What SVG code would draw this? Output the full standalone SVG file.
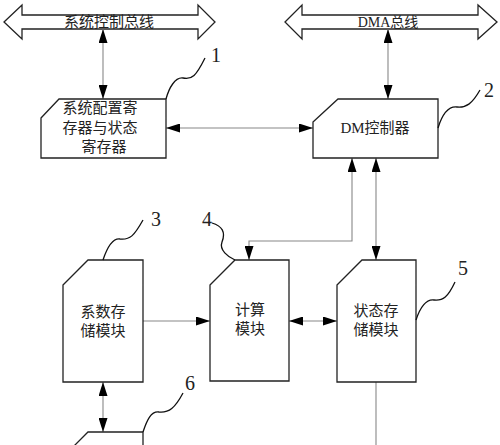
<svg xmlns="http://www.w3.org/2000/svg" width="500" height="445" viewBox="0 0 500 445">
<style>
.box{fill:#fff;stroke:#222;stroke-width:1.3}
.bus{fill:#fff;stroke:#222;stroke-width:1.3}
.conn{fill:none;stroke:#888;stroke-width:1.1}
.lead{fill:none;stroke:#111;stroke-width:1.3}
.t{font-family:"Liberation Serif","Noto Sans CJK SC",serif;font-size:15px;fill:#222;text-anchor:middle}
.num{font-family:"Liberation Serif",serif;font-size:20px;fill:#222;text-anchor:middle}
</style>
<defs>
<marker id="ah" markerUnits="userSpaceOnUse" markerWidth="14" markerHeight="9" refX="14" refY="4.5" orient="auto-start-reverse" viewBox="0 0 14 9">
<path d="M0,0 L14,4.5 L0,9 z" fill="#000"/>
</marker>
</defs>
<g id="bus1">
<polygon class="bus" points="4,22 22,5 22,15 198,15 198,5 215,22 198,39 198,29 22,29 22,39"/>
<text class="t" x="109" y="27">系统控制总线</text>
</g>
<g id="bus2">
<polygon class="bus" points="285,22 302,5 302,15 478,15 478,5 497,22 478,39 478,29 302,29 302,39"/>
<text class="t" x="388" y="27" style="font-size:14px">DMA总线</text>
</g>
<g id="connectors">
<path class="conn" d="M103,29 V99" marker-start="url(#ah)" marker-end="url(#ah)"/>
<path class="conn" d="M388,29 V99" marker-start="url(#ah)" marker-end="url(#ah)"/>
<path class="conn" d="M166,128 H313" marker-start="url(#ah)" marker-end="url(#ah)"/>
<path class="conn" d="M352,158 V241 H249 V260" marker-start="url(#ah)" marker-end="url(#ah)"/>
<path class="conn" d="M376,158 V260" marker-start="url(#ah)" marker-end="url(#ah)"/>
<path class="conn" d="M143,321 H210" marker-end="url(#ah)"/>
<path class="conn" d="M289,321 H337" marker-start="url(#ah)" marker-end="url(#ah)"/>
<path class="conn" d="M376,382 V445"/>
<path class="conn" d="M103,382 V432" marker-start="url(#ah)" marker-end="url(#ah)"/>
</g>
<g id="node1">
<polygon class="box" points="41,118 59,99 166,99 166,158 41,158"/>
<text class="t" x="100" y="113">系统配置寄</text>
<text class="t" x="100" y="133">存器与状态</text>
<text class="t" x="104" y="152">寄存器</text>
<path class="lead" d="M166,99 C169,88 175,77 183,78 C192,80 196,76 205,58"/>
<text class="num" x="216" y="62">1</text>
</g>
<g id="node2">
<polygon class="box" points="313,122 338,99 438,99 438,158 313,158"/>
<text class="t" x="375" y="133">DM控制器</text>
<path class="lead" d="M438,128 C442,115 448,106 457,107 C466,108 472,104 480,90"/>
<text class="num" x="489" y="97">2</text>
</g>
<g id="node3">
<polygon class="box" points="63,285 88,260 143,260 143,382 63,382"/>
<text class="t" x="103" y="317">系数存</text>
<text class="t" x="103" y="336">储模块</text>
<path class="lead" d="M103,260 C107,248 112,238 120,239 C130,240 134,236 143,220"/>
<text class="num" x="156" y="226">3</text>
</g>
<g id="node4">
<polygon class="box" points="210,285 235,260 289,260 289,381 210,381"/>
<text class="t" x="250" y="315">计算</text>
<text class="t" x="250" y="334">模块</text>
<path class="lead" d="M212,223 C222,226 226,232 222,242 C219,250 228,257 235,260"/>
<text class="num" x="207" y="226">4</text>
</g>
<g id="node5">
<polygon class="box" points="337,285 362,260 416,260 416,382 337,382"/>
<text class="t" x="376" y="316">状态存</text>
<text class="t" x="376" y="335">储模块</text>
<path class="lead" d="M416,320 C420,308 426,299 434,300 C443,301 448,297 455,282"/>
<text class="num" x="463" y="275">5</text>
</g>
<g id="node6">
<polygon class="box" points="63,457 88,432 143,432 143,554 63,554"/>
<path class="lead" d="M143,432 C147,420 151,411 159,412 C169,413 175,408 183,393"/>
<text class="num" x="190" y="390">6</text>
</g>
</svg>
